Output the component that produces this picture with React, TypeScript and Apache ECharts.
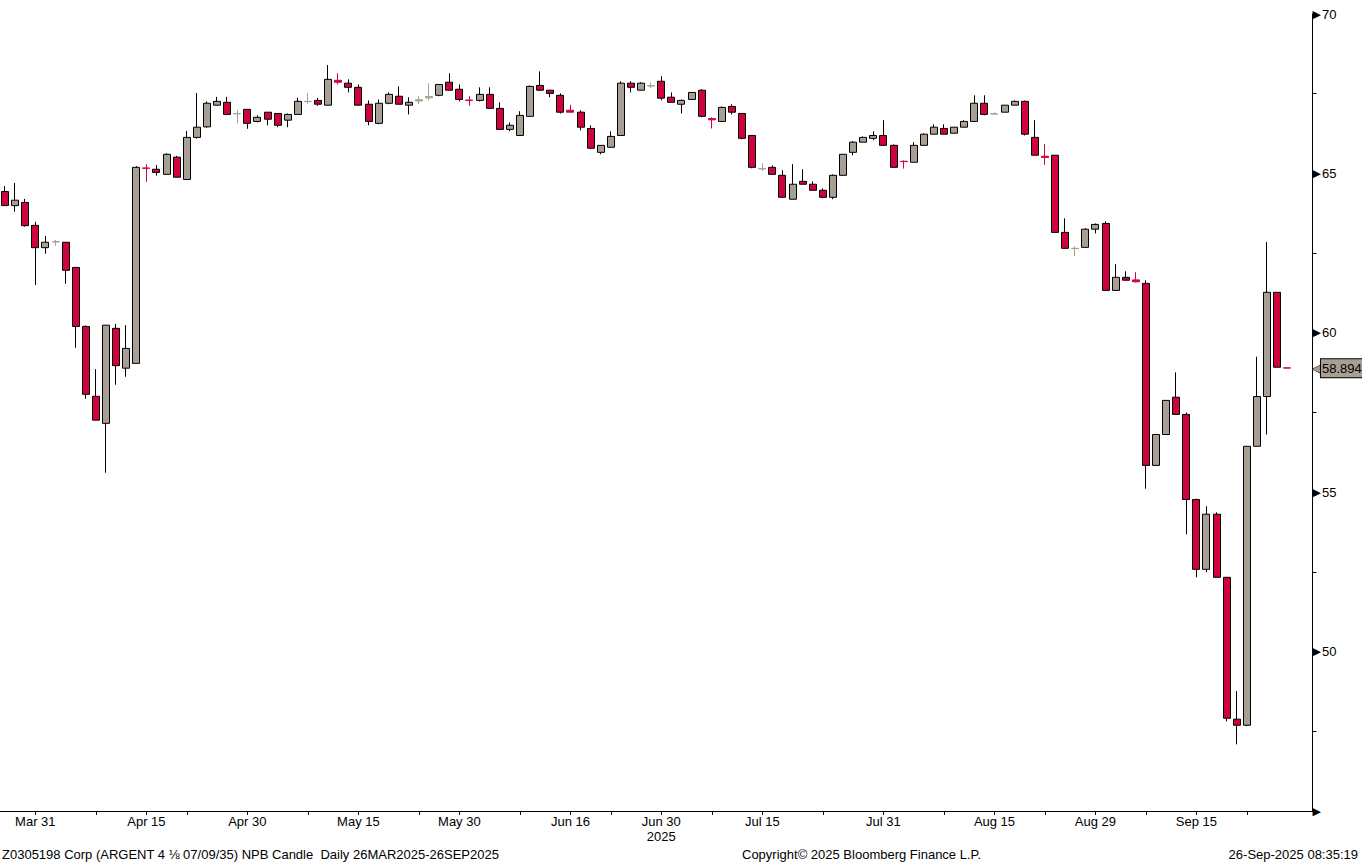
import React, { useEffect, useRef } from "react";
import * as echarts from "echarts";

const dates = [
  "Mar 26", "Mar 27", "Mar 28", "Mar 31",
  "Apr 1", "Apr 2", "Apr 3", "Apr 4", "Apr 7", "Apr 8", "Apr 9", "Apr 10", "Apr 11", "Apr 14", "Apr 15", "Apr 16", "Apr 17", "Apr 21", "Apr 22", "Apr 23", "Apr 24", "Apr 25", "Apr 28", "Apr 29", "Apr 30",
  "May 1", "May 2", "May 5", "May 6", "May 7", "May 8", "May 9", "May 12", "May 13", "May 14", "May 15", "May 16", "May 19", "May 20", "May 21", "May 22", "May 23", "May 27", "May 28", "May 29", "May 30",
  "Jun 2", "Jun 3", "Jun 4", "Jun 5", "Jun 6", "Jun 9", "Jun 10", "Jun 11", "Jun 12", "Jun 13", "Jun 16", "Jun 17", "Jun 18", "Jun 20", "Jun 23", "Jun 24", "Jun 25", "Jun 26", "Jun 27", "Jun 30",
  "Jul 1", "Jul 2", "Jul 3", "Jul 7", "Jul 8", "Jul 9", "Jul 10", "Jul 11", "Jul 14", "Jul 15", "Jul 16", "Jul 17", "Jul 18", "Jul 21", "Jul 22", "Jul 23", "Jul 24", "Jul 25", "Jul 28", "Jul 29", "Jul 30", "Jul 31",
  "Aug 1", "Aug 4", "Aug 5", "Aug 6", "Aug 7", "Aug 8", "Aug 11", "Aug 12", "Aug 13", "Aug 14", "Aug 15", "Aug 18", "Aug 19", "Aug 20", "Aug 21", "Aug 22", "Aug 25", "Aug 26", "Aug 27", "Aug 28", "Aug 29",
  "Sep 2", "Sep 3", "Sep 4", "Sep 5", "Sep 8", "Sep 9", "Sep 10", "Sep 11", "Sep 12", "Sep 15", "Sep 16", "Sep 17", "Sep 18", "Sep 19", "Sep 22", "Sep 23", "Sep 24", "Sep 25", "Sep 26",
];

const opens = [
  64.43, 63.99, 64.09, 63.37,
  62.67, 62.85, 62.84, 62.05, 60.20, 58.01, 57.16, 60.14, 58.89, 59.04, 65.17, 65.13, 64.97, 65.51, 64.81, 66.13, 66.46, 67.14, 67.23, 66.87, 67.01,
  66.63, 66.92, 66.88, 66.67, 66.85, 67.25, 67.29, 67.14, 67.92, 67.83, 67.70, 67.17, 66.57, 67.20, 67.42, 67.14, 67.27, 67.37, 67.45, 67.86, 67.64,
  67.30, 67.29, 67.48, 67.04, 66.38, 66.19, 66.79, 67.76, 67.61, 67.45, 66.98, 66.92, 66.41, 65.66, 65.82, 66.19, 67.83, 67.61, 67.74, 67.89,
  67.39, 67.17, 67.32, 67.61, 66.72, 66.63, 67.10, 66.88, 66.19, 65.14, 65.19, 64.94, 64.19, 64.75, 64.66, 64.47, 64.25, 64.94, 65.66, 65.98, 66.10, 66.19,
  65.88, 65.38, 65.35, 65.88, 66.23, 66.41, 66.26, 66.45, 66.63, 67.20, 66.86, 66.92, 67.14, 67.26, 66.13, 65.54, 65.57, 63.15, 62.64, 62.68, 63.25,
  63.43, 61.33, 61.74, 61.66, 61.55, 55.84, 56.81, 57.98, 57.44, 54.77, 52.58, 54.31, 52.33, 47.88, 47.69, 56.44, 58.00, 61.27, 58.90,
];

const closes = [
  63.99, 64.16, 63.36, 62.67,
  62.84, 62.86, 61.96, 60.20, 58.07, 57.26, 60.24, 58.97, 59.51, 65.19, 65.16, 65.03, 65.60, 64.88, 66.13, 66.45, 67.20, 67.26, 66.85, 66.88, 66.57,
  66.76, 66.70, 66.51, 66.85, 67.26, 67.26, 67.17, 67.95, 67.86, 67.70, 67.14, 66.63, 67.20, 67.48, 67.17, 67.23, 67.31, 67.41, 67.79, 67.61, 67.32,
  67.29, 67.48, 67.04, 66.38, 66.51, 66.82, 67.73, 67.61, 67.51, 66.92, 66.92, 66.45, 65.79, 65.88, 66.16, 67.83, 67.70, 67.83, 67.75, 67.36,
  67.23, 67.29, 67.54, 66.79, 66.68, 67.07, 66.92, 66.10, 65.19, 65.15, 64.97, 64.25, 64.66, 64.66, 64.47, 64.25, 64.94, 65.60, 65.98, 66.13, 66.19, 65.88,
  65.19, 65.37, 65.88, 66.23, 66.45, 66.23, 66.45, 66.63, 67.20, 66.85, 66.87, 67.14, 67.26, 66.23, 65.57, 65.50, 63.15, 62.65, 62.65, 63.25, 63.40,
  61.33, 61.74, 61.65, 61.60, 55.84, 56.81, 57.88, 57.44, 54.77, 52.58, 54.31, 52.33, 47.91, 47.69, 56.44, 58.00, 61.27, 58.92, 58.894,
];

const lows = [
  63.99, 63.80, 63.33, 61.50,
  62.48, 62.73, 61.54, 59.53, 57.93, 57.26, 55.61, 58.37, 58.62, 59.04, 64.74, 64.93, 64.97, 64.88, 64.81, 66.09, 66.43, 67.14, 66.85, 66.57, 66.40,
  66.60, 66.51, 66.45, 66.45, 66.85, 67.17, 67.12, 67.14, 67.79, 67.54, 67.14, 66.51, 66.54, 67.17, 67.17, 66.85, 67.17, 67.29, 67.42, 67.61, 67.26,
  67.12, 67.26, 67.04, 66.38, 66.32, 66.19, 66.79, 67.58, 67.39, 66.88, 66.92, 66.35, 65.76, 65.60, 65.82, 66.19, 67.54, 67.61, 67.67, 67.29,
  67.23, 66.88, 67.32, 66.76, 66.41, 66.63, 66.85, 66.07, 65.16, 65.08, 64.97, 64.25, 64.19, 64.66, 64.47, 64.22, 64.19, 64.94, 65.57, 65.98, 66.04, 65.88,
  65.19, 65.15, 65.35, 65.88, 66.23, 66.23, 66.26, 66.45, 66.63, 66.82, 66.85, 66.92, 67.14, 66.19, 65.57, 65.27, 63.15, 62.65, 62.40, 62.68, 63.12,
  61.33, 61.33, 61.65, 61.58, 55.11, 55.84, 56.81, 57.44, 53.68, 52.33, 52.49, 52.33, 47.81, 47.09, 47.66, 56.44, 56.81, 58.92, 58.894,
];

const highs = [
  64.60, 64.70, 64.20, 63.48,
  63.04, 62.91, 62.84, 62.05, 60.23, 58.86, 60.24, 60.28, 60.24, 65.23, 65.29, 65.26, 65.63, 65.55, 66.33, 67.52, 67.26, 67.40, 67.40, 66.99, 67.01,
  66.82, 66.92, 66.88, 66.88, 67.37, 67.52, 67.37, 68.40, 68.14, 67.95, 67.79, 67.29, 67.32, 67.54, 67.73, 67.39, 67.42, 67.83, 67.79, 68.14, 67.79,
  67.42, 67.70, 67.70, 67.23, 66.60, 66.95, 67.76, 68.20, 67.61, 67.51, 67.15, 66.98, 66.51, 65.88, 66.32, 67.89, 67.89, 67.86, 67.86, 68.05,
  67.54, 67.32, 67.54, 67.64, 66.76, 67.10, 67.17, 66.88, 66.19, 65.32, 65.25, 65.10, 65.29, 65.13, 64.75, 64.53, 64.97, 65.60, 66.01, 66.16, 66.32, 66.67,
  65.91, 65.41, 65.98, 66.26, 66.54, 66.54, 66.45, 66.67, 67.45, 67.45, 66.92, 67.14, 67.29, 67.29, 66.67, 65.92, 65.57, 63.59, 62.71, 63.28, 63.43,
  63.50, 62.15, 61.93, 61.90, 61.65, 56.81, 57.88, 58.76, 57.50, 54.80, 54.56, 54.37, 52.33, 48.76, 56.44, 59.25, 62.85, 61.27, 58.90,
];

const axisLabelDates = ["Mar 31", "Apr 15", "Apr 30", "May 15", "May 30", "Jun 16", "Jun 30", "Jul 15", "Jul 31", "Aug 15", "Aug 29", "Sep 15"];
const minorTickDates = ["Apr 8", "Apr 22", "May 8", "May 23", "Jun 9", "Jun 23", "Jul 8", "Jul 23", "Aug 8", "Aug 22", "Sep 8", "Sep 22"];
const yearLabelDate = "Jun 30";
const yearLabel = "2025";
const lastPrice = 58.894;

const footerLeft = "Z0305198 Corp (ARGENT 4 \u215B 07/09/35) NPB Candle  Daily 26MAR2025-26SEP2025";
const footerMid = "Copyright\u00A9 2025 Bloomberg Finance L.P.";
const footerRight = "26-Sep-2025 08:35:19";

const UP = "#A89F94";
const DOWN = "#D0043C";
const FONT = "'Liberation Sans', Arial, sans-serif";

export default function App() {
  const ref = useRef<HTMLDivElement>(null);

  useEffect(() => {
    if (!ref.current) return;
    const chart = echarts.init(ref.current, null, { renderer: "svg" });

    const categories = [...dates, " ", "  "];
    const labelSet = new Set(axisLabelDates);
    const tickSet = new Set([...axisLabelDates, ...minorTickDates]);

    const candleData = dates.map((_, i) => {
      const o = opens[i];
      const c = closes[i];
      const item: any = { value: [o, c, lows[i], highs[i]] };
      if (Math.abs(o - c) < 0.08) {
        const fill = c >= o ? UP : DOWN;
        item.itemStyle = { borderColor: fill, borderColor0: fill, color: fill, color0: fill };
      }
      return item;
    });

    const option: any = {
      animation: false,
      backgroundColor: "#ffffff",
      grid: { left: -5, right: 49.5, top: 14, bottom: 52, containLabel: false },
      xAxis: {
        type: "category",
        data: categories,
        boundaryGap: true,
        axisLine: { show: true, lineStyle: { color: "#000", width: 1 } },
        axisTick: {
          show: true,
          alignWithLabel: true,
          length: 4,
          lineStyle: { color: "#000", width: 1 },
          interval: (_i: number, v: string) => tickSet.has(v),
        },
        axisLabel: {
          show: true,
          interval: (_i: number, v: string) => labelSet.has(v),
          color: "#000",
          fontFamily: FONT,
          fontSize: 13,
          margin: 3,
          lineHeight: 15,
          formatter: (v: string) => (v === yearLabelDate ? v + "\n" + yearLabel : v),
        },
        splitLine: { show: false },
      },
      yAxis: {
        type: "value",
        position: "right",
        min: 45,
        max: 70,
        interval: 2.5,
        scale: true,
        axisLine: { show: true, lineStyle: { color: "#000", width: 1 } },
        axisTick: { show: true, length: 4, lineStyle: { color: "#000", width: 1 } },
        splitLine: { show: false },
        axisLabel: {
          show: true,
          margin: 0,
          showMinLabel: true,
          showMaxLabel: true,
          color: "#000",
          fontFamily: FONT,
          fontSize: 13,
          formatter: (v: number) => {
            if (Math.abs(v % 5) > 1e-6) return "";
            if (v === 45) return "{t|\u25B6}";
            return "{t|\u25B6}{v|" + v + "}";
          },
          rich: {
            t: { fontSize: 11, fontFamily: "'DejaVu Sans', sans-serif", color: "#000", padding: [0, 1, 0, 0] },
            v: { fontSize: 13, fontFamily: FONT, color: "#000" },
          },
        },
      },
      series: [
        {
          type: "candlestick",
          data: candleData,
          barWidth: 7.5,
          clip: false,
          itemStyle: {
            color: UP,
            color0: DOWN,
            borderColor: "#000",
            borderColor0: "#000",
            borderWidth: 1,
          },
          markLine: {
            silent: true,
            symbol: ["none", "none"],
            lineStyle: { width: 0, color: "rgba(0,0,0,0)", type: "solid" },
            data: [{ yAxis: lastPrice }],
            label: {
              show: true,
              position: "end",
              distance: 0,
              formatter: "{a|\u25C0}{b|" + lastPrice.toFixed(3) + "}",
              rich: {
                a: {
                  fontSize: 11,
                  fontFamily: "'DejaVu Sans', sans-serif",
                  color: UP,
                  textBorderColor: "#000",
                  textBorderWidth: 1,
                },
                b: {
                  fontSize: 13,
                  fontFamily: FONT,
                  color: "#000",
                  backgroundColor: UP,
                  borderColor: "#000",
                  borderWidth: 1,
                  padding: [3, 1, 2, 1],
                },
              },
            },
          },
        },
      ],
      graphic: [
        {
          type: "text",
          left: 2,
          top: 848,
          style: { text: footerLeft, fill: "#000", font: "13px " + FONT },
        },
        {
          type: "text",
          left: 742,
          top: 848,
          style: { text: footerMid, fill: "#000", font: "13px " + FONT },
        },
        {
          type: "text",
          right: 4,
          top: 848,
          style: { text: footerRight, fill: "#000", font: "13px " + FONT },
        },
      ],
    };

    chart.setOption(option);
    return () => chart.dispose();
  }, []);

  return (
    <div
      ref={ref}
      style={{ position: "fixed", left: 0, top: 0, width: 1362, height: 863, background: "#fff" }}
    />
  );
}
